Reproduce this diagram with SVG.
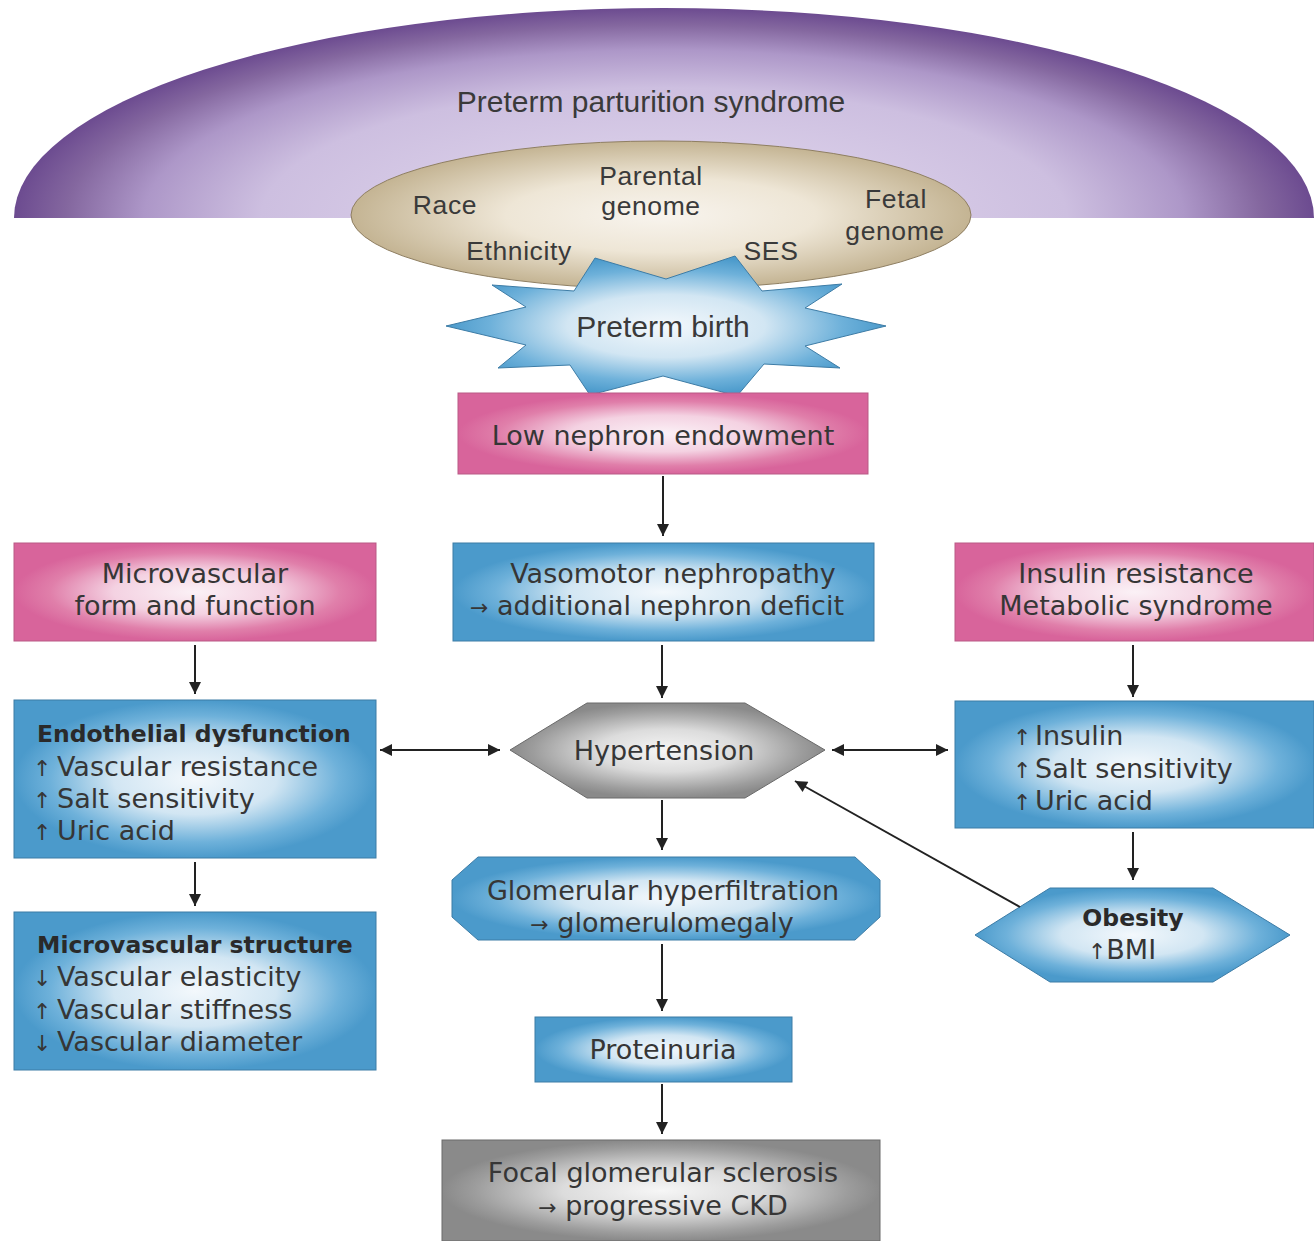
<svg xmlns="http://www.w3.org/2000/svg" width="1314" height="1241" viewBox="0 0 1314 1241">
<defs>
<radialGradient id="gPink"><stop offset="0" stop-color="#fbf1f6"/><stop offset="0.45" stop-color="#f4d2e2"/><stop offset="0.8" stop-color="#e07faa"/><stop offset="1" stop-color="#d8649b"/></radialGradient>
<radialGradient id="gBlue"><stop offset="0" stop-color="#f3f8fc"/><stop offset="0.45" stop-color="#d2e6f3"/><stop offset="0.8" stop-color="#6eb1da"/><stop offset="1" stop-color="#4b9acb"/></radialGradient>
<radialGradient id="gGray"><stop offset="0" stop-color="#f6f6f6"/><stop offset="0.45" stop-color="#dcdcdc"/><stop offset="0.85" stop-color="#9d9d9d"/><stop offset="1" stop-color="#8a8a8a"/></radialGradient>
<radialGradient id="gTan"><stop offset="0" stop-color="#f8f4ee"/><stop offset="0.5" stop-color="#eee6d6"/><stop offset="1" stop-color="#c4b493"/></radialGradient>
<radialGradient id="gDome" gradientUnits="userSpaceOnUse" cx="0" cy="0" r="1" gradientTransform="translate(664,218) scale(650,210)"><stop offset="0" stop-color="#e4dbef"/><stop offset="0.62" stop-color="#cdbfe0"/><stop offset="0.8" stop-color="#ad97c8"/><stop offset="0.92" stop-color="#84679f"/><stop offset="1" stop-color="#6c4b90"/></radialGradient>
<marker id="ah" viewBox="0 0 10 10" refX="10" refY="5" markerUnits="userSpaceOnUse" markerWidth="15" markerHeight="12" orient="auto-start-reverse"><path d="M0,0 L10,5 L0,10 Z" fill="#222"/></marker>
</defs>
<style>
.t{font-family:"DejaVu Sans",sans-serif;font-size:27px;fill:#363636}
.tb{font-family:"DejaVu Sans",sans-serif;font-size:23.5px;font-weight:bold;fill:#2a2a2a}
.ts{font-family:"Liberation Sans",Arial,sans-serif;font-size:30px;fill:#3a3a3a}
.te{font-family:"Liberation Sans",Arial,sans-serif;font-size:26.5px;letter-spacing:0.6px;fill:#3a3a3a}
.c{text-anchor:middle}
.ar{font-size:22px}
.pink{fill:url(#gPink);stroke:#b95a85;stroke-width:1}
.blue{fill:url(#gBlue);stroke:#3d7ca6;stroke-width:1}
.gray{fill:url(#gGray);stroke:#6a6a6a;stroke-width:1}
.conn line{stroke:#222;stroke-width:2;marker-end:url(#ah)}
</style>
<rect width="1314" height="1241" fill="#ffffff"/>
<g id="dome">
<path d="M14,218 A650,210 0 0 1 1314,218 Z" fill="url(#gDome)"/>
<text class="ts c" x="651" y="112">Preterm parturition syndrome</text>
</g>
<g id="factors">
<ellipse cx="661" cy="215" rx="310" ry="74" fill="url(#gTan)" stroke="#8f7f62" stroke-width="1"/>
<text class="te c" x="651" y="185">Parental</text>
<text class="te c" x="651" y="215">genome</text>
<text class="te c" x="445" y="214">Race</text>
<text class="te c" x="519" y="260">Ethnicity</text>
<text class="te c" x="771" y="260">SES</text>
<text class="te c" x="896" y="208">Fetal</text>
<text class="te c" x="895" y="240">genome</text>
</g>
<g id="preterm-birth">
<polygon class="blue" points="595,258 666,279 735,256 762,291 842,284 805,308 886,326 805,346 840,368 764,364 737,396 663,376 590,395 570,365 498,368 526,345 446,326 526,307 492,285 574,291"/>
<text class="ts c" x="663" y="337">Preterm birth</text>
</g>
<g id="low-nephron">
<rect class="pink" x="458" y="393" width="410" height="81"/>
<text class="t c" x="663" y="445">Low nephron endowment</text>
</g>
<g id="micro-form">
<rect class="pink" x="14" y="543" width="362" height="98"/>
<text class="t c" x="195" y="583">Microvascular</text>
<text class="t c" x="195" y="615">form and function</text>
</g>
<g id="vasomotor">
<rect class="blue" x="453" y="543" width="421" height="98"/>
<text class="t c" x="673" y="583">Vasomotor nephropathy</text>
<text class="t c" x="657" y="615"><tspan class="ar">→</tspan> additional nephron deficit</text>
</g>
<g id="insulin-resistance">
<rect class="pink" x="955" y="543" width="359" height="98"/>
<text class="t c" x="1136" y="583">Insulin resistance</text>
<text class="t c" x="1136" y="615">Metabolic syndrome</text>
</g>
<g id="endothelial">
<rect class="blue" x="14" y="700" width="362" height="158"/>
<text class="tb" x="37" y="742">Endothelial dysfunction</text>
<text class="t" x="33" y="776"><tspan class="ar">↑</tspan><tspan x="57">Vascular resistance</tspan></text>
<text class="t" x="33" y="808"><tspan class="ar">↑</tspan><tspan x="57">Salt sensitivity</tspan></text>
<text class="t" x="33" y="840"><tspan class="ar">↑</tspan><tspan x="57">Uric acid</tspan></text>
</g>
<g id="hypertension">
<polygon class="gray" points="510,750 587,703 745,703 825,750 745,798 587,798"/>
<text class="t c" x="664" y="760">Hypertension</text>
</g>
<g id="insulin-effects">
<rect class="blue" x="955" y="701" width="359" height="127"/>
<text class="t" x="1013" y="745"><tspan class="ar">↑</tspan><tspan x="1035">Insulin</tspan></text>
<text class="t" x="1013" y="778"><tspan class="ar">↑</tspan><tspan x="1035">Salt sensitivity</tspan></text>
<text class="t" x="1013" y="810"><tspan class="ar">↑</tspan><tspan x="1035">Uric acid</tspan></text>
</g>
<g id="micro-structure">
<rect class="blue" x="14" y="912" width="362" height="158"/>
<text class="tb" x="37" y="953">Microvascular structure</text>
<text class="t" x="33" y="986"><tspan class="ar">↓</tspan><tspan x="57">Vascular elasticity</tspan></text>
<text class="t" x="33" y="1019"><tspan class="ar">↑</tspan><tspan x="57">Vascular stiffness</tspan></text>
<text class="t" x="33" y="1051"><tspan class="ar">↓</tspan><tspan x="57">Vascular diameter</tspan></text>
</g>
<g id="glomerular">
<polygon class="blue" points="478,857 855,857 880,880 880,917 855,940 478,940 452,917 452,880"/>
<text class="t c" x="663" y="900">Glomerular hyperfiltration</text>
<text class="t c" x="662" y="932"><tspan class="ar">→</tspan> glomerulomegaly</text>
</g>
<g id="obesity">
<polygon class="blue" points="975,935 1050,888 1213,888 1290,935 1213,982 1050,982"/>
<text class="tb c" x="1133" y="926">Obesity</text>
<text class="t c" x="1122" y="959"><tspan class="ar">↑</tspan>BMI</text>
</g>
<g id="proteinuria">
<rect class="blue" x="535" y="1017" width="257" height="65"/>
<text class="t c" x="663" y="1059">Proteinuria</text>
</g>
<g id="focal">
<rect class="gray" x="442" y="1140" width="438" height="101"/>
<text class="t c" x="663" y="1182">Focal glomerular sclerosis</text>
<text class="t c" x="663" y="1215"><tspan class="ar">→</tspan> progressive CKD</text>
</g>
<g id="connectors" class="conn">
<line x1="663" y1="476" x2="663" y2="536"/>
<line x1="195" y1="645" x2="195" y2="694"/>
<line x1="662" y1="645" x2="662" y2="698"/>
<line x1="1133" y1="645" x2="1133" y2="697"/>
<line x1="380" y1="750" x2="500" y2="750" style="marker-start:url(#ah)"/>
<line x1="832" y1="750" x2="948" y2="750" style="marker-start:url(#ah)"/>
<line x1="195" y1="862" x2="195" y2="906"/>
<line x1="1133" y1="832" x2="1133" y2="880"/>
<line x1="1020" y1="907" x2="795" y2="781"/>
<line x1="662" y1="800" x2="662" y2="850"/>
<line x1="662" y1="944" x2="662" y2="1011"/>
<line x1="662" y1="1084" x2="662" y2="1134"/>
</g>
</svg>
